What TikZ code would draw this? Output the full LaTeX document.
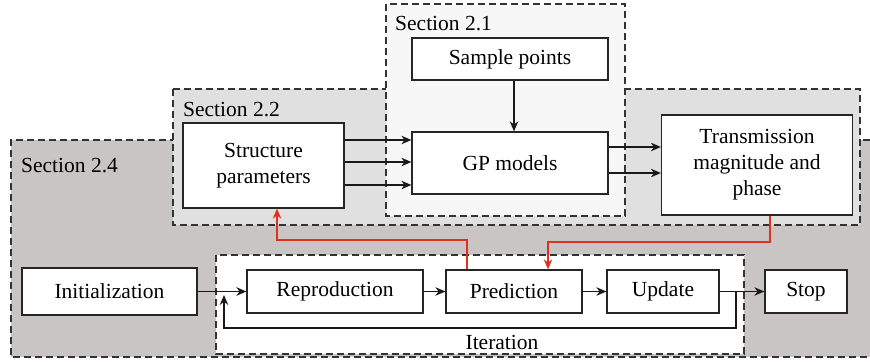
\documentclass[tikz,border=0pt]{standalone}
\usepackage{fontspec}
\setmainfont{Liberation Serif}
\usetikzlibrary{arrows.meta}
\definecolor{darkbg}{HTML}{C9C5C5}
\definecolor{midbg}{HTML}{E0E0E0}
\definecolor{lightbg}{HTML}{F7F7F7}
\definecolor{redline}{HTML}{E0301E}
\tikzset{
  box/.style={draw=black!85, line width=1.3pt, fill=white, align=center, inner sep=0pt,
    font=\fontsize{21.5}{26}\selectfont},
  secbox/.style={draw=black!80, line width=1.3pt, dash pattern=on 7pt off 4pt},
  lbl/.style={inner sep=0pt, font=\fontsize{21.5}{26}\selectfont},
  arr/.style={line width=1.3pt, draw=black!90, -{Stealth[length=10pt,width=8.5pt]}},
  redarr/.style={line width=1.3pt, draw=redline, -{Stealth[length=10pt,width=8.5pt]}},
  plain/.style={line width=1.3pt, draw=black!90}
}
\begin{document}
\begin{tikzpicture}[x=1pt,y=-1pt]
\useasboundingbox (0,0) rectangle (870,364);
% Section 2.4
\fill[darkbg] (11,140) rectangle (870,357);
\draw[secbox] (870,140) -- (11,140) -- (11,357) -- (870,357);
% Section 2.2
\draw[secbox, fill=midbg] (173,89) rectangle (860,225);
% Section 2.1
\draw[secbox, fill=lightbg] (386,4) rectangle (625,216);
% Iteration
\draw[secbox, fill=white] (216,255) rectangle (744,354);

\node[lbl, anchor=west] (s21) at (395,24) {Section 2.1};
\node[lbl, anchor=west] (s22) at (183,110) {Section 2.2};
\node[lbl, anchor=west] (s24) at (21,166) {Section 2.4};
\node[lbl] (itl) at (502,342) {Iteration};

\node[box, minimum width=196pt, minimum height=42pt] (sample) at (510,59) {Sample points};
\node[box, minimum width=196pt, minimum height=62pt] (gp) at (510,163) {GP models};
\node[box, minimum width=161pt, minimum height=85pt] (sp) at (263.5,165.5) {Structure\\parameters};
\node[box, minimum width=191pt, minimum height=100pt] (tm) at (757,165) {Transmission\\magnitude and\\phase};
\node[box, minimum width=175pt, minimum height=47pt] (init) at (109.5,291.5) {Initialization};
\node[box, minimum width=176pt, minimum height=43pt] (repro) at (335,291.5) {Reproduction};
\node[box, minimum width=136pt, minimum height=43pt] (pred) at (514,291.5) {Prediction};
\node[box, minimum width=112pt, minimum height=43pt] (upd) at (663,291.5) {Update};
\node[box, minimum width=82pt, minimum height=43pt] (stop) at (806,291.5) {Stop};

\draw[arr] ([xshift=4pt]sample.south) -- ([xshift=4pt]gp.north);
\draw[arr] ([yshift=23pt]gp.west -| sp.east) -- ([yshift=23pt]gp.west);
\draw[arr] ([yshift=1pt]gp.west -| sp.east) -- ([yshift=1pt]gp.west);
\draw[arr] ([yshift=-22pt]gp.west -| sp.east) -- ([yshift=-22pt]gp.west);
\draw[arr] ([yshift=16pt]gp.east) -- ([yshift=16pt]gp.east -| tm.west);
\draw[arr] ([yshift=-10pt]gp.east) -- ([yshift=-10pt]gp.east -| tm.west);

\coordinate (r1) at (277,240);
\coordinate (r2) at (548,242);
\draw[redarr] ([xshift=-47pt]pred.north) |- (r1) -- ([xshift=13.5pt]sp.south);
\draw[redarr] ([xshift=13pt]tm.south) |- (r2) -- ([xshift=34pt]pred.north);

\draw[arr] (init) -- (repro);
\draw[arr] (repro) -- (pred);
\draw[arr] (pred) -- (upd);
\draw[arr] (upd) -- (stop);

\coordinate (lb) at (736,291.5);
\coordinate (le) at (224,295);
\draw[arr] (lb) -- (736,328) -- (224,328) -- (le);
\end{tikzpicture}
\end{document}
